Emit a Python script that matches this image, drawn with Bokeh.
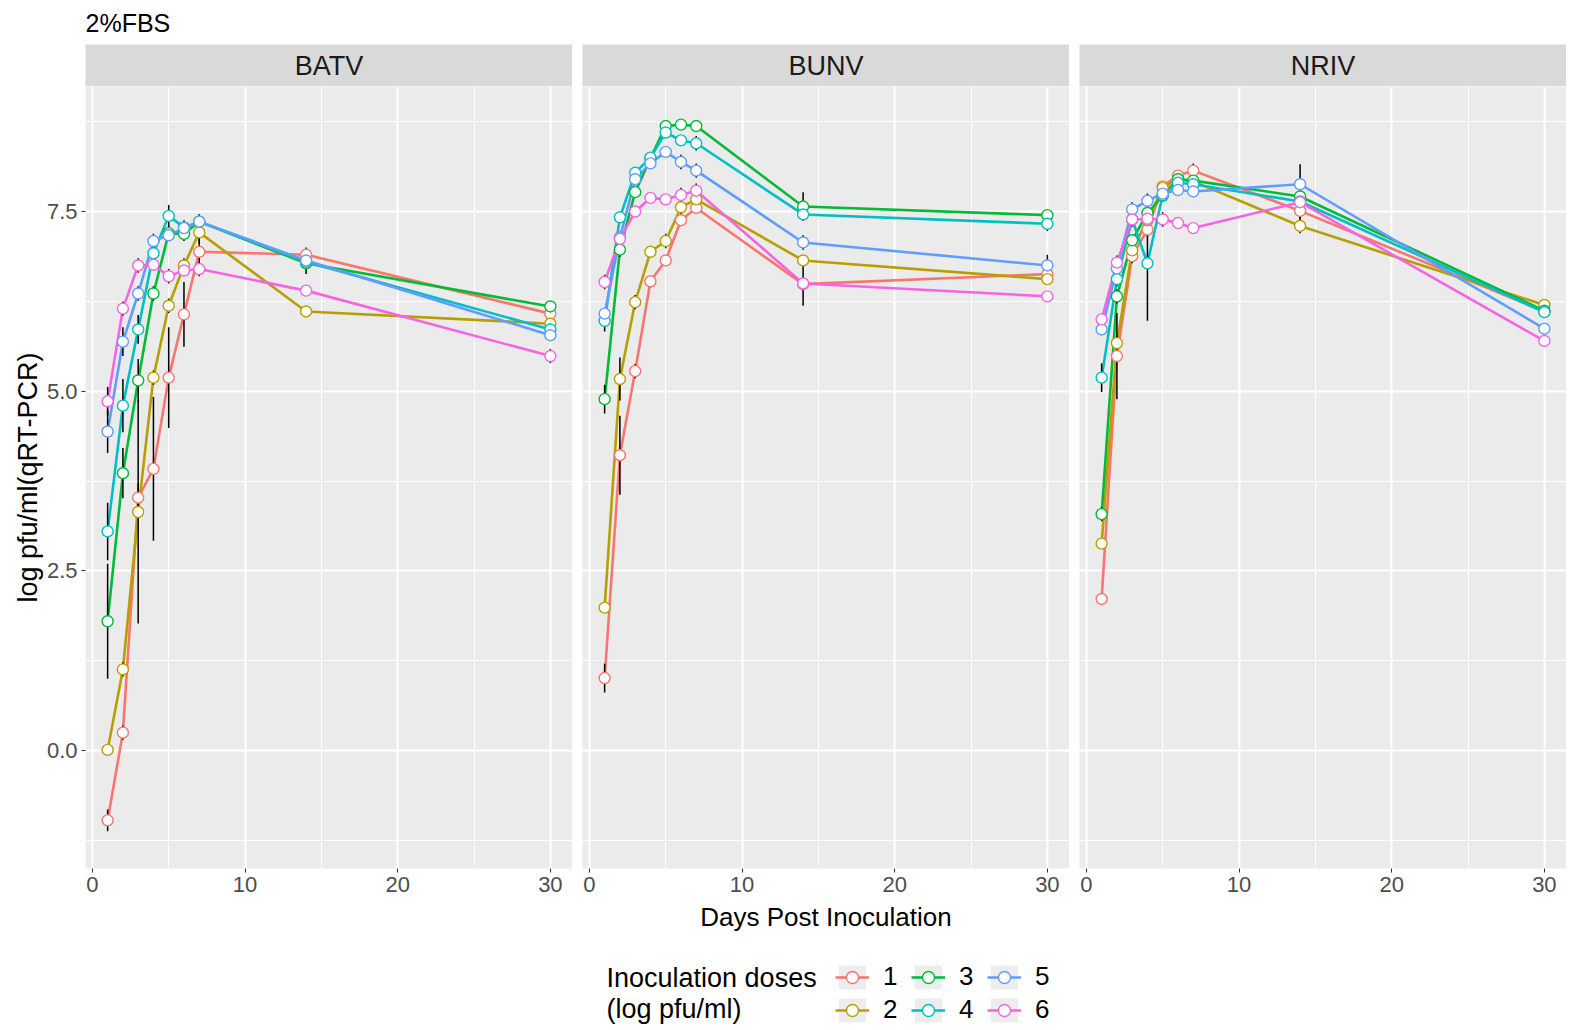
from bokeh.plotting import figure
from bokeh.layouts import column, row
from bokeh.models import Range1d, FixedTicker, Legend, LegendItem, ColumnDataSource, PrintfTickFormatter
from bokeh.core.properties import value
from bokeh.embed import file_html
from bokeh.resources import INLINE

FONT = "Liberation Sans"

days = [1, 2, 3, 4, 5, 6, 7, 14, 30]
viruses = ["BATV", "BUNV", "NRIV"]
dose_labels = ["1", "2", "3", "4", "5", "6"]
colors = ["#F8766D", "#B79F00", "#00BA38", "#00BFC4", "#619CFF", "#F564E3"]

# ---- BATV means / sd ----
batv_d1 = [-0.97, 0.25, 3.52, 3.92, 5.19, 6.07, 6.94, 6.90, 6.08]
batv_d2 = [0.01, 1.13, 3.32, 5.19, 6.19, 6.75, 7.21, 6.11, 5.94]
batv_d3 = [1.80, 3.86, 5.15, 6.36, 7.20, 7.19, 7.36, 6.78, 6.18]
batv_d4 = [3.05, 4.80, 5.86, 6.92, 7.44, 7.28, 7.36, 6.80, 5.86]
batv_d5 = [4.44, 5.69, 6.36, 7.09, 7.17, 7.27, 7.36, 6.82, 5.78]
batv_d6 = [4.86, 6.15, 6.75, 6.76, 6.60, 6.68, 6.70, 6.40, 5.49]
batv_sd1 = [0.15, 0.10, 0.20, 1.00, 0.70, 0.45, 0.30, 0.10, 0.05]
batv_sd2 = [0.05, 0.10, 1.55, 0.10, 0.10, 0.10, 0.15, 0.05, 0.05]
batv_sd3 = [0.80, 0.35, 0.30, 0.10, 0.10, 0.10, 0.10, 0.15, 0.05]
batv_sd4 = [0.40, 0.37, 0.20, 0.10, 0.15, 0.10, 0.10, 0.05, 0.05]
batv_sd5 = [0.30, 0.20, 0.10, 0.10, 0.05, 0.05, 0.05, 0.05, 0.05]
batv_sd6 = [0.20, 0.10, 0.10, 0.05, 0.10, 0.05, 0.10, 0.05, 0.10]

# ---- BUNV means / sd ----
bunv_d1 = [1.01, 4.11, 5.28, 6.53, 6.82, 7.38, 7.55, 6.49, 6.63]
bunv_d2 = [1.99, 5.17, 6.24, 6.94, 7.09, 7.56, 7.67, 6.82, 6.56]
bunv_d3 = [4.89, 6.97, 7.77, 8.24, 8.69, 8.71, 8.69, 7.57, 7.45]
bunv_d4 = [5.98, 7.42, 8.04, 8.25, 8.60, 8.49, 8.45, 7.46, 7.33]
bunv_d5 = [6.08, 7.14, 7.95, 8.17, 8.33, 8.19, 8.07, 7.07, 6.75]
bunv_d6 = [6.52, 7.12, 7.50, 7.69, 7.67, 7.73, 7.79, 6.50, 6.32]
bunv_sd1 = [0.20, 0.55, 0.10, 0.05, 0.05, 0.05, 0.05, 0.30, 0.05]
bunv_sd2 = [0.05, 0.30, 0.10, 0.05, 0.10, 0.10, 0.05, 0.05, 0.05]
bunv_sd3 = [0.20, 0.10, 0.05, 0.05, 0.05, 0.05, 0.05, 0.20, 0.05]
bunv_sd4 = [0.15, 0.05, 0.05, 0.05, 0.05, 0.05, 0.10, 0.05, 0.10]
bunv_sd5 = [0.05, 0.05, 0.05, 0.05, 0.05, 0.10, 0.10, 0.10, 0.15]
bunv_sd6 = [0.10, 0.05, 0.05, 0.05, 0.05, 0.10, 0.10, 0.05, 0.05]

# ---- NRIV means / sd ----
nriv_d1 = [2.11, 5.49, 6.88, 7.25, 7.85, 8.00, 8.07, 7.51, 6.11]
nriv_d2 = [2.88, 5.67, 6.96, 7.38, 7.83, 7.95, 7.92, 7.30, 6.20]
nriv_d3 = [3.29, 6.32, 7.10, 7.48, 7.72, 7.95, 7.93, 7.71, 6.12]
nriv_d4 = [5.19, 6.56, 7.39, 6.78, 7.73, 7.90, 7.88, 7.64, 6.10]
nriv_d5 = [5.86, 6.71, 7.53, 7.65, 7.75, 7.80, 7.78, 7.88, 5.87]
nriv_d6 = [6.00, 6.79, 7.39, 7.40, 7.39, 7.34, 7.27, 7.63, 5.70]
nriv_sd1 = [0.05, 0.60, 0.10, 0.10, 0.05, 0.05, 0.10, 0.10, 0.05]
nriv_sd2 = [0.05, 0.10, 0.10, 0.10, 0.05, 0.05, 0.05, 0.10, 0.05]
nriv_sd3 = [0.10, 0.10, 0.05, 0.10, 0.05, 0.05, 0.05, 0.45, 0.05]
nriv_sd4 = [0.20, 0.10, 0.05, 0.80, 0.05, 0.05, 0.05, 0.05, 0.05]
nriv_sd5 = [0.05, 0.10, 0.10, 0.10, 0.05, 0.05, 0.05, 0.05, 0.05]
nriv_sd6 = [0.05, 0.10, 0.10, 0.10, 0.10, 0.05, 0.05, 0.05, 0.05]

x_ticks = [0, 10, 20, 30]
x_minor = [5, 15, 25]
y_ticks = [0, 2.5, 5.0, 7.5]
y_minor = [-1.25, 1.25, 3.75, 6.25, 8.75]

means = {
    "BATV": [batv_d1, batv_d2, batv_d3, batv_d4, batv_d5, batv_d6],
    "BUNV": [bunv_d1, bunv_d2, bunv_d3, bunv_d4, bunv_d5, bunv_d6],
    "NRIV": [nriv_d1, nriv_d2, nriv_d3, nriv_d4, nriv_d5, nriv_d6],
}
sds = {
    "BATV": [batv_sd1, batv_sd2, batv_sd3, batv_sd4, batv_sd5, batv_sd6],
    "BUNV": [bunv_sd1, bunv_sd2, bunv_sd3, bunv_sd4, bunv_sd5, bunv_sd6],
    "NRIV": [nriv_sd1, nriv_sd2, nriv_sd3, nriv_sd4, nriv_sd5, nriv_sd6],
}

FW, FH = 487, 782
LEFT0 = 85
TOTAL_W = LEFT0 + FW + 2 * (10 + FW)
LINE_W = 2.6
PT_SIZE = 11


def make_strip(i, name):
    s = figure(frame_width=FW, frame_height=42, x_range=Range1d(0, 1), y_range=Range1d(0, 1),
               x_axis_location=None, y_axis_location=None, output_backend="svg", toolbar_location=None,
               min_border_left=LEFT0 if i == 0 else 10, min_border_right=0, min_border_top=0, min_border_bottom=0,
               background_fill_color="#D9D9D9", border_fill_color="white", outline_line_color=None)
    s.grid.visible = False
    s.text(x=[0.5], y=[0.5], text=[name], text_align="center", text_baseline="middle",
           text_font=value(FONT), text_font_size="27px", text_color="#1A1A1A")
    return s


def make_panel(i, name):
    p = figure(frame_width=FW, frame_height=FH, x_range=Range1d(-0.45, 31.45), y_range=Range1d(-1.64, 9.24),
               y_axis_location="left" if i == 0 else None, output_backend="svg", toolbar_location=None,
               min_border_left=LEFT0 if i == 0 else 10, min_border_right=0, min_border_top=0, min_border_bottom=32,
               background_fill_color="#EBEBEB", border_fill_color="white", outline_line_color=None)
    p.xgrid.ticker = FixedTicker(ticks=x_ticks, minor_ticks=x_minor)
    p.ygrid.ticker = FixedTicker(ticks=y_ticks, minor_ticks=y_minor)
    for g in (p.xgrid, p.ygrid):
        g.grid_line_color = "white"
        g.grid_line_width = 2
        g.minor_grid_line_color = "white"
        g.minor_grid_line_width = 1
    p.xaxis.ticker = FixedTicker(ticks=x_ticks, minor_ticks=x_minor)
    axes = list(p.xaxis) + (list(p.yaxis) if i == 0 else [])
    for ax in axes:
        ax.axis_line_color = None
        ax.major_tick_line_color = "#333333"
        ax.major_tick_line_width = 1
        ax.major_tick_in = 0
        ax.major_tick_out = 4
        ax.minor_tick_line_color = None
        ax.major_label_text_font = FONT
        ax.major_label_text_font_size = "22px"
        ax.major_label_text_color = "#4D4D4D"
        ax.major_label_standoff = 4
    if i == 0:
        p.yaxis.ticker = FixedTicker(ticks=y_ticks, minor_ticks=y_minor)
        p.yaxis.formatter = PrintfTickFormatter(format="%.1f")
        p.yaxis.axis_label = "log pfu/ml(qRT-PCR)"
        p.yaxis.axis_label_text_font = FONT
        p.yaxis.axis_label_text_font_size = "27px"
        p.yaxis.axis_label_text_font_style = "normal"
        p.yaxis.axis_label_text_color = "black"
        p.yaxis.axis_label_standoff = 1

    srcs = []
    for k in range(6):
        m = means[name][k]
        sd = sds[name][k]
        srcs.append(ColumnDataSource(dict(x=days, y=m,
                                          lo=[a - b for a, b in zip(m, sd)],
                                          hi=[a + b for a, b in zip(m, sd)])))
    for k in range(6):
        p.line("x", "y", source=srcs[k], line_color=colors[k], line_width=LINE_W)
    for k in range(6):
        p.segment(x0="x", y0="lo", x1="x", y1="hi", source=srcs[k], line_color="black", line_width=1.5)
    for k in range(6):
        p.scatter("x", "y", source=srcs[k], size=PT_SIZE, fill_color="white", line_color=colors[k], line_width=1.4)
    return p


# header with the overall title
header = figure(width=TOTAL_W, height=44, x_range=Range1d(0, TOTAL_W), y_range=Range1d(44, 0),
                x_axis_location=None, y_axis_location=None, output_backend="svg", toolbar_location=None,
                min_border=0, outline_line_color=None, background_fill_color="white", border_fill_color="white")
header.grid.visible = False
header.text(x=[LEFT0], y=[22], text=["2%FBS"], text_align="left", text_baseline="middle",
            text_font=value(FONT), text_font_size="25px", text_color="black")

strips = [make_strip(i, v) for i, v in enumerate(viruses)]
panels = [make_panel(i, v) for i, v in enumerate(viruses)]

# bottom: x-axis title + legend
BH = 128
bottom = figure(width=TOTAL_W, height=BH, x_range=Range1d(0, TOTAL_W), y_range=Range1d(BH, 0),
                x_axis_location=None, y_axis_location=None, output_backend="svg", toolbar_location=None,
                min_border=0, outline_line_color=None, background_fill_color="white", border_fill_color="white")
bottom.grid.visible = False
bottom.text(x=[LEFT0 + FW + 10 + FW / 2], y=[16], text=["Days Post Inoculation"], text_align="center",
            text_baseline="middle", text_font=value(FONT), text_font_size="26px", text_color="black")
bottom.text(x=[606, 606], y=[77, 108], text=["Inoculation doses", "(log pfu/ml)"], text_align="left",
            text_baseline="middle", text_font=value(FONT), text_font_size="27px", text_color="black")

# legend proxies (one point each, placed outside the visible range)
items = []
for k in range(6):
    q = bottom.quad(left=[-1000], right=[-999], top=[-1000], bottom=[-999], fill_color="#EDEDED", line_color=None)
    ln = bottom.line(x=[-1000, -999], y=[-1000, -1000], line_color=colors[k], line_width=LINE_W)
    sc = bottom.scatter(x=[-1000], y=[-1000], size=PT_SIZE, fill_color="white", line_color=colors[k], line_width=1.4)
    items.append(LegendItem(label=dose_labels[k], renderers=[q, ln, sc]))

legend = Legend(items=items, orientation="vertical", nrows=2, location=(835, 3),
                glyph_width=34, glyph_height=30, label_standoff=14, label_width=26, spacing=2,
                padding=0, margin=0, border_line_color=None, background_fill_alpha=0,
                label_text_font=FONT, label_text_font_size="26px", label_text_color="black")
bottom.add_layout(legend)

layout = column(header, row(*strips), row(*panels), bottom)

open("out.html", "w").write(file_html(layout, INLINE))
